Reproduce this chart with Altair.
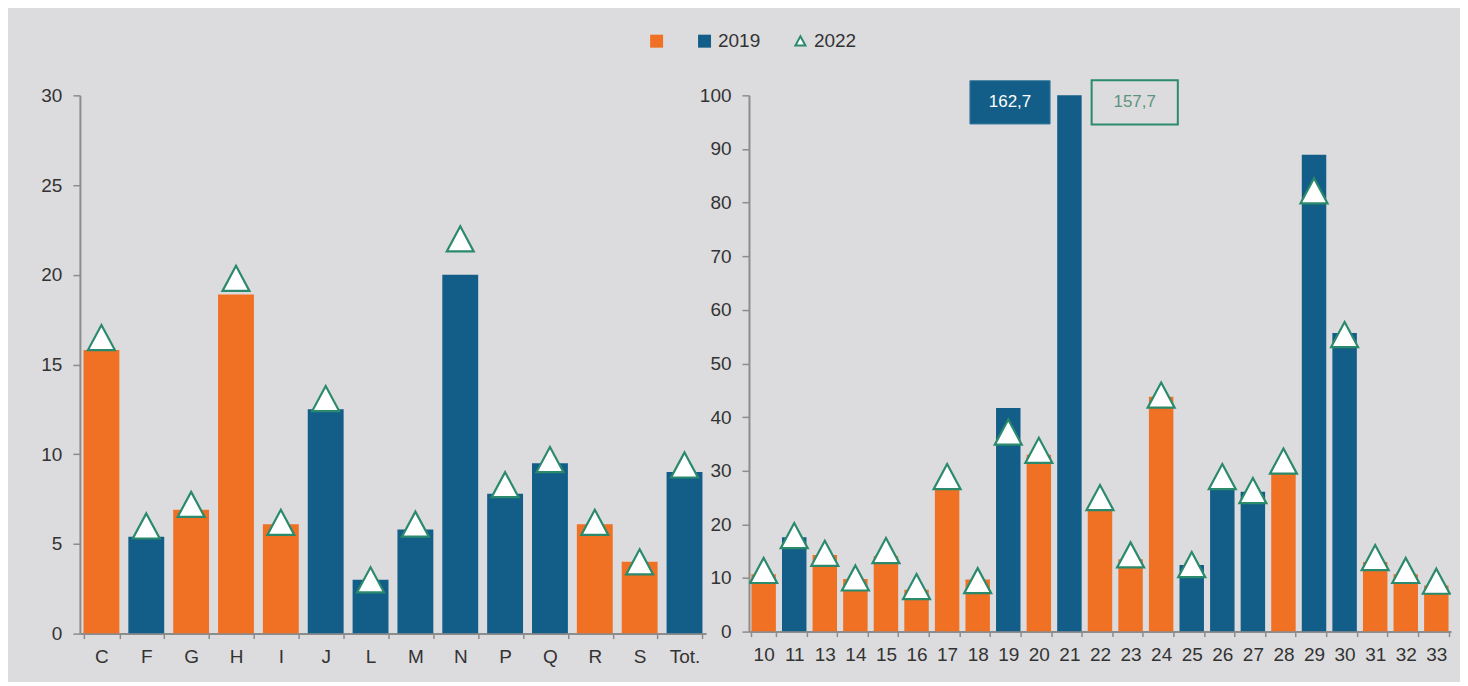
import altair as alt
import pandas as pd

# ---------------- data ----------------
left_cats = ["C", "F", "G", "H", "I", "J", "L", "M", "N", "P", "Q", "R", "S", "Tot."]
left_2019 = [15.8, 5.4, 6.9, 18.9, 6.1, 12.5, 3.0, 5.8, 20.0, 7.8, 9.5, 6.1, 4.0, 9.0]
left_2022 = [16.5, 6.0, 7.2, 19.8, 6.2, 13.1, 3.0, 6.1, 22.0, 8.3, 9.7, 6.2, 4.0, 9.4]
left_group = [" ", "2019", " ", " ", " ", "2019", "2019", "2019", "2019", "2019", "2019", " ", " ", "2019"]

right_cats = ["10", "11", "13", "14", "15", "16", "17", "18", "19", "20", "21", "22",
              "23", "24", "25", "26", "27", "28", "29", "30", "31", "32", "33"]
right_2019 = [10.7, 17.6, 14.3, 9.8, 14.1, 7.8, 26.7, 9.7, 41.7, 33.0, 162.7, 22.7,
              13.5, 43.8, 12.4, 26.8, 26.1, 29.6, 88.9, 55.7, 13.0, 10.7, 8.6]
right_2022 = [11.4, 17.9, 14.6, 10.0, 15.1, 8.4, 28.9, 9.5, 37.2, 33.8, 157.7, 25.0,
              14.3, 44.1, 12.5, 28.9, 26.3, 31.8, 82.2, 55.4, 13.8, 11.4, 9.4]
right_group = [" ", "2019", " ", " ", " ", " ", " ", " ", "2019", " ", "2019", " ",
               " ", " ", "2019", "2019", "2019", " ", "2019", "2019", " ", " ", " "]

# off-scale value labels for category 21
ann_cat = ["21"]
ann_label_2019 = ["162,7"]
ann_label_2022 = ["157,7"]

LEFT_MAX, LEFT_STEP = 30, 5
RIGHT_MAX, RIGHT_STEP = 100, 10

# ---------------- style ----------------
ORANGE = "#F07124"
BLUE = "#135E88"
GREEN = "#2B8A6B"
BG = "#DCDCDE"
AXIS_GRAY = "#8C8C8C"
TEXT = "#333333"
FONT = "Liberation Sans"
TRI = "M0,-0.93L1,0.93L-1,0.93Z"
BOX1 = "M-1,-0.54L1,-0.54L1,0.54L-1,0.54Z"
BOX2 = "M-1,-0.513L1,-0.513L1,0.513L-1,0.513Z"

color_scale = alt.Scale(domain=[" ", "2019"], range=[ORANGE, BLUE])
shape_scale = alt.Scale(domain=["2022"], range=[TRI])
stroke_scale = alt.Scale(domain=["2022"], range=[GREEN])

color_legend = alt.Legend(
    title=None, orient="none", legendX=568, legendY=-64, direction="horizontal",
    symbolType="square", symbolSize=169, symbolStrokeWidth=0,
    labelFont=FONT, labelFontSize=19, labelColor=TEXT, labelOffset=4,
    columnPadding=25, padding=0,
)
shape_legend = alt.Legend(
    title=None, orient="none", legendX=712, legendY=-64, direction="horizontal",
    symbolSize=100, symbolType=TRI, symbolFillColor="#F4F4F4",
    symbolStrokeWidth=2, symbolOpacity=1,
    labelFont=FONT, labelFontSize=19, labelColor=TEXT,
    labelOffset=4, padding=0,
)


def panel(cats, v2019, v2022, grp, ymax, ystep, ylab_pad):
    df = pd.DataFrame({"cat": cats, "v2019": v2019, "v2022": v2022,
                       "grp": grp, "series": ["2022"] * len(cats)})
    x = alt.X("cat:N", sort=cats,
              scale=alt.Scale(paddingInner=0.2, paddingOuter=0.08),
              axis=alt.Axis(title=None, labelAngle=0, tickBand="extent",
                            tickSize=5, labelPadding=9))
    y_scale = alt.Scale(domain=[0, ymax], nice=False)
    y_axis = alt.Axis(title=None, values=list(range(0, ymax + 1, ystep)),
                      grid=False, tickSize=7, labelPadding=ylab_pad)
    bars = alt.Chart(df).mark_bar(clip=True).encode(
        x=x,
        y=alt.Y("v2019:Q", scale=y_scale, axis=y_axis),
        color=alt.Color("grp:N", scale=color_scale, legend=color_legend),
    )
    tri = alt.Chart(df).mark_point(
        filled=False, fill="white", strokeWidth=2.2,
        size=729, opacity=1, fillOpacity=1, clip=True,
    ).encode(
        x=alt.X("cat:N", sort=cats),
        y=alt.Y("v2022:Q"),
        shape=alt.Shape("series:N", scale=shape_scale, legend=shape_legend),
        stroke=alt.Stroke("series:N", scale=stroke_scale, legend=shape_legend),
    )
    return bars, tri


lb, lt = panel(left_cats, left_2019, left_2022, left_group,
               LEFT_MAX, LEFT_STEP, 11)
left = alt.layer(lb, lt).properties(width=627, height=539)

rb, rt = panel(right_cats, right_2019, right_2022, right_group,
               RIGHT_MAX, RIGHT_STEP, 11)

ann_df = pd.DataFrame({"cat": ann_cat, "l19": ann_label_2019, "l22": ann_label_2022})
ann_base = alt.Chart(ann_df).encode(x=alt.X("cat:N", sort=right_cats),
                                    y=alt.datum(RIGHT_MAX))
box1 = ann_base.mark_point(shape=BOX1, size=80.3 ** 2, filled=True, fill=BLUE,
                           stroke="#3d7ba0", strokeWidth=1, opacity=1,
                           xOffset=-59.5, yOffset=7)
txt1 = ann_base.mark_text(color="white", font=FONT, fontSize=17,
                          xOffset=-59.5, yOffset=7).encode(text="l19:N")
box2 = ann_base.mark_point(shape=BOX2, size=86.3 ** 2, filled=False,
                           stroke=GREEN, strokeWidth=2, opacity=1,
                           xOffset=65.4, yOffset=7)
txt2 = ann_base.mark_text(color="#5E927C", font=FONT, fontSize=17,
                          xOffset=65.4, yOffset=7).encode(text="l22:N")

right = alt.layer(rb, rt, box1, txt1, box2, txt2).properties(width=703, height=537)

chart = alt.hconcat(left, right, spacing=43, bounds="flush").properties(
    background=BG,
    padding={"left": 32, "top": 23, "right": 9, "bottom": 15},
).configure_view(stroke=None).configure_axis(
    domainColor=AXIS_GRAY, domainWidth=2, tickColor=AXIS_GRAY, tickWidth=1.5,
    labelFont=FONT, labelFontSize=19, labelColor=TEXT,
)

chart.save("out.html", embed_options={"renderer": "svg", "actions": False})
